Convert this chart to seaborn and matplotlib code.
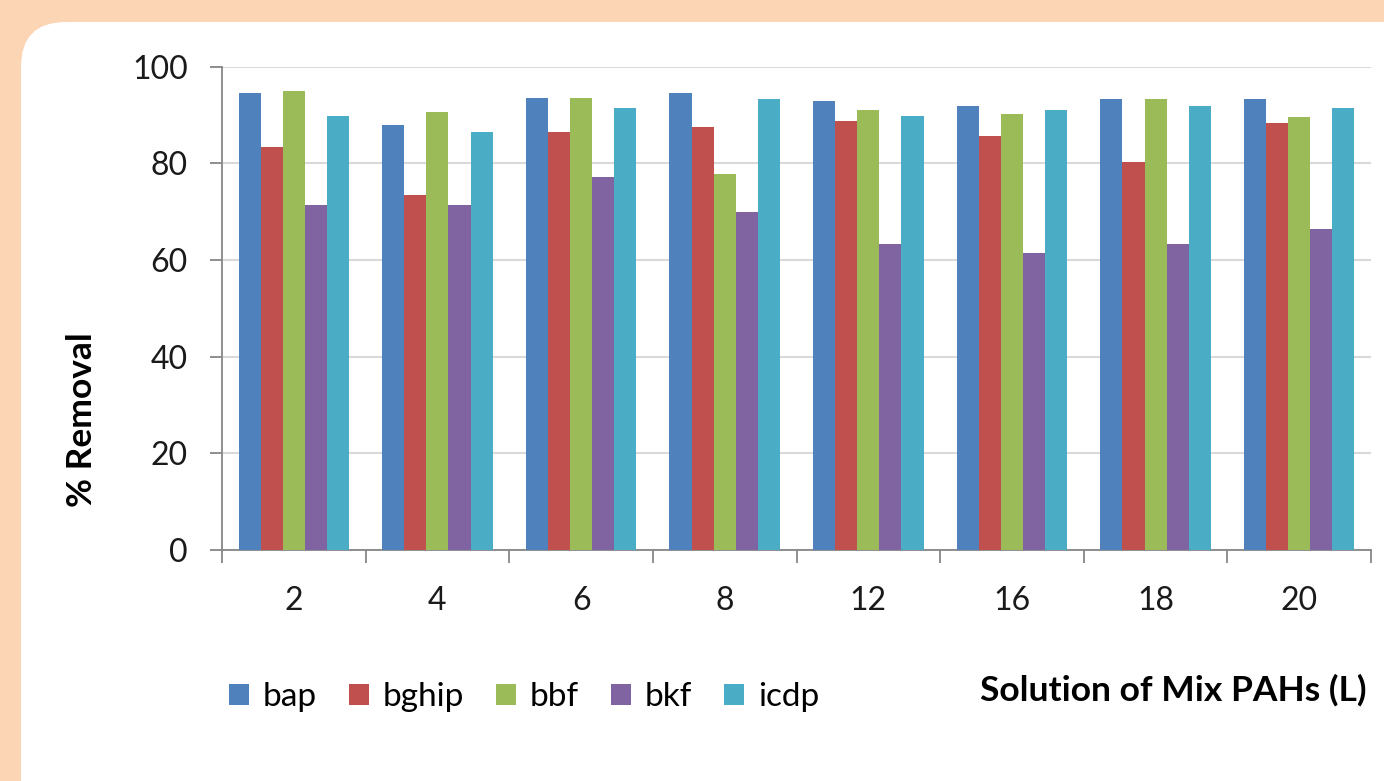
import pandas as pd
import matplotlib
matplotlib.use('Agg')
import matplotlib.pyplot as plt
import seaborn as sns
from matplotlib.patches import FancyBboxPatch
from matplotlib.transforms import IdentityTransform

volumes = ['2', '4', '6', '8', '12', '16', '18', '20']
compounds = ['bap', 'bghip', 'bbf', 'bkf', 'icdp']
bap = [94.5, 87.9, 93.6, 94.5, 93.0, 91.8, 93.3, 93.3]
bghip = [83.3, 73.4, 86.5, 87.6, 88.8, 85.6, 80.3, 88.3]
bbf = [94.9, 90.6, 93.6, 77.9, 91.0, 90.3, 93.3, 89.5]
bkf = [71.4, 71.4, 77.2, 69.9, 63.4, 61.4, 63.4, 66.4]
icdp = [89.8, 86.5, 91.4, 93.3, 89.8, 91.0, 91.8, 91.4]
colors = ['#4F81BD', '#C0504D', '#9BBB59', '#8064A2', '#4BACC6']

df = pd.DataFrame({'volume': volumes, 'bap': bap, 'bghip': bghip,
                   'bbf': bbf, 'bkf': bkf, 'icdp': icdp})
df = df.melt(id_vars='volume', var_name='compound', value_name='removal')

plt.rcParams['font.family'] = ['Lato', 'DejaVu Sans']
fs = 23

fig = plt.figure(figsize=(13.84, 7.81), dpi=100, facecolor='#FCD5B5')
# white rounded panel
panel = FancyBboxPatch((21, -60), 1450, 781 - 22 + 60,
                       boxstyle='round,pad=0,rounding_size=45',
                       facecolor='white', edgecolor='none',
                       transform=IdentityTransform(), zorder=0)
fig.add_artist(panel)

W, H = 1384, 781
ax = fig.add_axes([222 / W, 1 - 550 / H, (1371 - 222) / W, (550 - 66.7) / H])
ax.set_facecolor('none')

sns.barplot(data=df, x='volume', y='removal', hue='compound',
            order=volumes, hue_order=compounds, palette=colors,
            width=0.77, linewidth=0, saturation=1, ax=ax, zorder=3)

ax.set_ylim(0, 100)
ax.set_xlim(-0.5, len(volumes) - 0.5)
ax.set_yticks(range(0, 101, 20))
ax.yaxis.grid(True, color='#D9D9D9', linewidth=1.5, zorder=0)
ax.set_axisbelow(True)

for s in ['top', 'right']:
    ax.spines[s].set_visible(False)
for s in ['left', 'bottom']:
    ax.spines[s].set_color('#868686')
    ax.spines[s].set_linewidth(1.3)

ax.tick_params(axis='y', length=8.5, width=1.3, color='#868686',
               labelsize=fs, pad=16, labelcolor='#1a1a1a')
ax.set_xticks([i - 0.5 for i in range(len(volumes) + 1)], minor=True)
ax.tick_params(axis='x', which='minor', length=9.5, width=1.3, color='#868686')
ax.tick_params(axis='x', which='major', length=0, labelsize=fs, pad=26,
               labelcolor='#1a1a1a')

ax.set_ylabel('% Removal', fontsize=25.5, fontweight='bold', va='center')
ax.yaxis.set_label_coords((82 - 222) / 1149, (550 - 420) / 483.3)
ax.set_xlabel('Solution of Mix PAHs (L)', fontsize=25.5, fontweight='bold',
              ha='right', va='center')
ax.xaxis.set_label_coords((1366 - 222) / 1149, (550 - 690) / 483.3)

ax.legend(loc='center left', bbox_to_anchor=((229 - 222) / 1149, (550 - 697) / 483.3),
          ncol=5, frameon=False, fontsize=24, handlelength=0.6, handleheight=0.6,
          handletextpad=0.42, columnspacing=0.95, borderaxespad=0, borderpad=0)

fig.savefig('out.png', dpi=100, facecolor=fig.get_facecolor())
